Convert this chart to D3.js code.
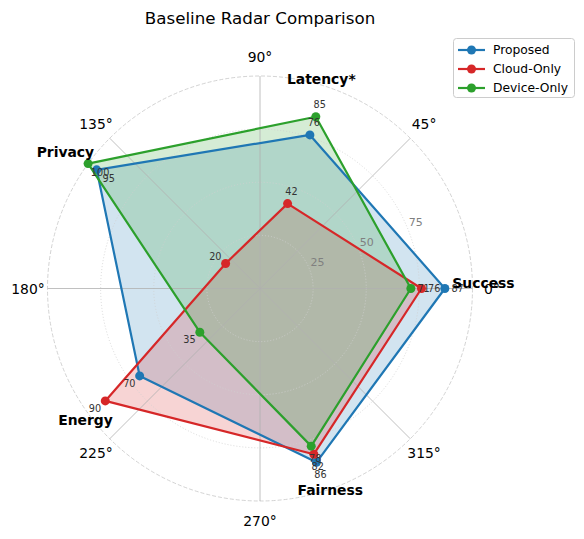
<!DOCTYPE html>
<html>
<head>
<meta charset="utf-8">
<script src="https://cdn.jsdelivr.net/npm/d3@7"></script>
<style>
  html, body { margin: 0; padding: 0; background: #fff; }
  svg { display: block; font-family: "DejaVu Sans", sans-serif; }
</style>
</head>
<body>
<svg id="chart" width="584" height="539"></svg>
<script>
// ---- data ----
const categories = ["Success", "Latency*", "Privacy", "Energy", "Fairness"];
const seriesNames = ["Proposed", "Cloud-Only", "Device-Only"];
const proposed   = [87, 76, 95, 70, 86];
const cloudOnly  = [76, 42, 20, 90, 82];
const deviceOnly = [71, 85, 100, 35, 78];
const radialTicks = [25, 50, 75];
const angleTicks = [0, 45, 90, 135, 180, 225, 270, 315];

// ---- layout / style ----
const colors = ["#1f77b4", "#d62728", "#2ca02c"];
const cx = 260, cy = 288.5, R = 212.5;
const catLabelPos = [ // radius (data units) and angle nudge (deg) for category labels
  {r: 105.2, da: 1.5}, {r: 102.8, da: 1.7}, {r: 111.8, da: 1.0},
  {r: 102.8, da: 1.0}, {r: 100.6, da: 1.2}
];

const svg = d3.select("#chart");
const r = d3.scaleLinear().domain([0, 100]).range([0, R]);
const catAngle = d3.scaleLinear().domain([0, categories.length]).range([0, 360]);
const toXY = (deg, rad) => {
  const a = deg * Math.PI / 180;
  return [cx + rad * Math.cos(a), cy - rad * Math.sin(a)];
};

const g = svg.append("g");
const series = [proposed, cloudOnly, deviceOnly];

// fills
series.forEach((vals, i) => {
  const pts = vals.map((v, k) => toXY(catAngle(k), r(v)));
  g.append("polygon")
    .attr("points", pts.map(p => p.join(",")).join(" "))
    .attr("fill", colors[i]).attr("fill-opacity", 0.2).attr("stroke", "none");
});

// grid circles
radialTicks.forEach(t => {
  g.append("circle").attr("cx", cx).attr("cy", cy).attr("r", r(t))
    .attr("fill", "none").attr("stroke", "#cfcfcf").attr("stroke-width", 0.8)
    .attr("stroke-dasharray", "1,2");
});
g.append("circle").attr("cx", cx).attr("cy", cy).attr("r", r(100))
  .attr("fill", "none").attr("stroke", "#c8c8c8").attr("stroke-width", 0.8)
  .attr("stroke-dasharray", "4,2");

// spokes
angleTicks.forEach(a => {
  const p = toXY(a, r(100));
  g.append("line").attr("x1", cx).attr("y1", cy).attr("x2", p[0]).attr("y2", p[1])
    .attr("stroke", "#b0b0b0").attr("stroke-width", 0.8);
});

// radial tick labels
radialTicks.forEach(t => {
  const p = toXY(22.5, r(t));
  g.append("text").attr("x", p[0] + 1.5).attr("y", p[1] - 2)
    .attr("font-size", 11).attr("fill", "#808080")
    .attr("text-anchor", "start").text(t);
});

// angle labels
angleTicks.forEach(a => {
  const p = toXY(a, 232);
  g.append("text").attr("x", p[0]).attr("y", p[1])
    .attr("font-size", 13.9).attr("fill", "#000")
    .attr("text-anchor", "middle").attr("dominant-baseline", "central")
    .text(a + "°");
});

// lines + markers
const line = d3.line();
series.forEach((vals, i) => {
  const pts = vals.map((v, k) => toXY(catAngle(k), r(v)));
  g.append("path").attr("d", line([...pts, pts[0]]))
    .attr("fill", "none").attr("stroke", colors[i]).attr("stroke-width", 2.2)
    .attr("stroke-linejoin", "round");
  pts.forEach(p => {
    g.append("circle").attr("cx", p[0]).attr("cy", p[1]).attr("r", 4.5)
      .attr("fill", colors[i]);
  });
});

// value labels
series.forEach((vals, i) => {
  vals.forEach((v, k) => {
    const lr = v + 6 <= 100 ? v + 6 : v - 7;
    const p = toXY(catAngle(k), r(lr));
    g.append("text").attr("x", p[0]).attr("y", p[1])
      .attr("font-size", 9.7).attr("fill", "#333")
      .attr("text-anchor", "middle").attr("dominant-baseline", "central")
      .text(v);
  });
});

// category labels
categories.forEach((c, k) => {
  const p = toXY(catAngle(k) + catLabelPos[k].da, r(catLabelPos[k].r));
  g.append("text").attr("x", p[0]).attr("y", p[1])
    .attr("font-size", 13.9).attr("font-weight", "bold").attr("fill", "#000")
    .attr("text-anchor", "middle").attr("dominant-baseline", "central")
    .text(c);
});

// title
svg.append("text").attr("x", cx).attr("y", 18)
  .attr("font-size", 16.7).attr("text-anchor", "middle")
  .attr("dominant-baseline", "central").text("Baseline Radar Comparison");

// legend
const lg = svg.append("g").attr("transform", "translate(453,38)");
lg.append("rect").attr("x", 0.5).attr("y", 0.5).attr("width", 121).attr("height", 59)
  .attr("rx", 3).attr("fill", "#fff").attr("fill-opacity", 0.8)
  .attr("stroke", "#cccccc").attr("stroke-width", 1);
seriesNames.forEach((n, i) => {
  const y = 12 + i * 19;
  lg.append("line").attr("x1", 5).attr("x2", 32).attr("y1", y).attr("y2", y)
    .attr("stroke", colors[i]).attr("stroke-width", 2.2);
  lg.append("circle").attr("cx", 18.5).attr("cy", y).attr("r", 4.5).attr("fill", colors[i]);
  lg.append("text").attr("x", 40).attr("y", y).attr("font-size", 12.3)
    .attr("dominant-baseline", "central").text(n);
});
</script>
</body>
</html>
